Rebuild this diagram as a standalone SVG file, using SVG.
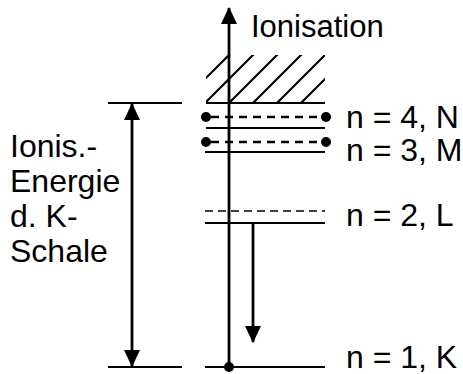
<svg xmlns="http://www.w3.org/2000/svg" width="463" height="374" viewBox="0 0 463 374">
<style>
text{font-family:"Liberation Sans",Arial,sans-serif;font-size:32px;fill:#000}
.ln{stroke:#000;stroke-width:2.2;fill:none}
.dash{stroke:#000;stroke-width:2.5;stroke-dasharray:8 6;fill:none}
.tdash{stroke:#000;stroke-width:1.5;stroke-dasharray:8 5;fill:none}
.ar{stroke:#000;stroke-width:2.8;fill:none}
</style>
<defs>
<marker id="ah" viewBox="0 0 17 16" refX="16" refY="8" markerWidth="17" markerHeight="16" markerUnits="userSpaceOnUse" orient="auto-start-reverse">
<path d="M0,0 L17,8 L0,16 Z" fill="#000"/>
</marker>
<clipPath id="hc"><rect x="206" y="55" width="119" height="48"/></clipPath>
</defs>
<g id="continuum">
<g clip-path="url(#hc)" class="ln">
<path d="M284,0 L184,100 M308,0 L198,110 M332,0 L222,110 M356,0 L246,110 M380,0 L270,110 M404,0 L294,110 M428,0 L318,110"/>
</g>
<line class="ln" x1="206" y1="103" x2="325" y2="103"/>
</g>
<g id="level-N">
<line class="dash" x1="211" y1="117" x2="321" y2="117"/>
<circle cx="206" cy="117" r="5"/>
<circle cx="326" cy="117" r="5"/>
<line class="ln" x1="206" y1="128" x2="325" y2="128"/>
<text x="346" y="128">n = 4, N</text>
</g>
<g id="level-M">
<line class="dash" x1="211" y1="142" x2="321" y2="142"/>
<circle cx="206" cy="142" r="5"/>
<circle cx="326" cy="142" r="5"/>
<line class="ln" x1="205" y1="152" x2="325" y2="152"/>
<text x="346" y="161">n = 3, M</text>
</g>
<g id="level-L">
<line class="tdash" x1="205" y1="211" x2="325" y2="211"/>
<line class="ln" x1="205" y1="223" x2="325" y2="223"/>
<text x="346" y="226">n = 2, L</text>
</g>
<g id="level-K">
<line class="ln" x1="205" y1="367" x2="325" y2="367"/>
<text x="346" y="368">n = 1, K</text>
</g>
<g id="ion-energy">
<line class="ln" x1="108" y1="103" x2="182" y2="103"/>
<line class="ln" x1="108" y1="367" x2="182" y2="367"/>
<text x="10" y="157">Ionis.-</text>
<text x="10" y="192">Energie</text>
<text x="10" y="227">d. K-</text>
<text x="10" y="262">Schale</text>
</g>
<g id="ionisation-label">
<text x="251" y="37" style="font-size:31px">Ionisation</text>
</g>
<g id="connectors">
<line class="ar" x1="229" y1="367" x2="229" y2="8" marker-end="url(#ah)"/>
<circle cx="229" cy="367" r="5"/>
<line class="ar" x1="132" y1="104" x2="132" y2="366" marker-start="url(#ah)" marker-end="url(#ah)"/>
<line class="ar" x1="253" y1="223" x2="253" y2="342" marker-end="url(#ah)"/>
</g>
</svg>
